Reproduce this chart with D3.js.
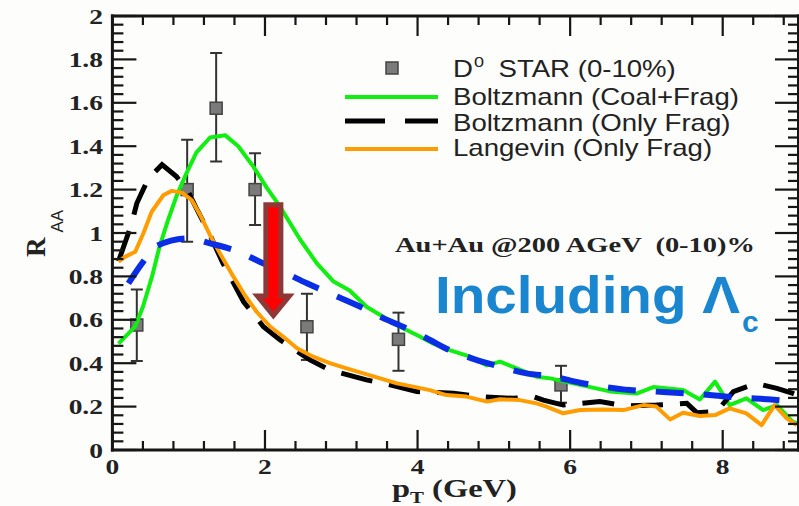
<!DOCTYPE html>
<html><head><meta charset="utf-8">
<script src="https://cdn.jsdelivr.net/npm/d3@7"></script>
<style>body{margin:0;background:#fdfdfb;overflow:hidden}svg{display:block}</style>
</head><body><svg id="c" width="799" height="506"></svg>
<script>
// ---- data ----
const starX  = [0.32, 0.98, 1.36, 1.87, 2.55, 3.75, 5.88];
const starY  = [0.576, 1.20, 1.575, 1.20, 0.568, 0.51, 0.30];
const starLo = [0.41, 0.96, 1.33, 1.037, 0.415, 0.365, 0.218];
const starHi = [0.74, 1.43, 1.83, 1.367, 0.72, 0.633, 0.388];

const coalX = [0.08,0.30,0.40,0.52,0.62,0.73,0.84,0.97,1.10,1.28,1.48,1.65,1.85,2.02,2.20,2.46,2.68,2.90,3.11,3.33,3.55,3.77,3.99,4.21,4.42,4.69,4.91,5.08,5.30,5.56,5.74,6.13,6.52,6.87,7.09,7.48,7.70,7.90,8.09,8.31,8.53,8.71,8.92,9.0];
const coalY = [0.49,0.57,0.66,0.80,0.94,1.06,1.17,1.275,1.37,1.44,1.45,1.40,1.305,1.21,1.12,0.97,0.86,0.776,0.735,0.66,0.614,0.568,0.53,0.49,0.46,0.43,0.39,0.407,0.376,0.338,0.33,0.30,0.27,0.26,0.29,0.276,0.233,0.315,0.207,0.238,0.184,0.207,0.13,0.12];

const fragX = [0.08,0.25,0.32,0.47,0.65,0.84,0.995,1.10,1.28,1.45,1.72,1.98,2.20,2.59,2.85,3.33,3.64,3.99,4.47,4.82,5.25,5.52,5.65,5.91,6.39,6.74,7.13,7.53,7.66,7.92,8.14,8.44,8.71,8.92,9.0];
const fragY = [0.87,1.04,1.137,1.25,1.315,1.26,1.19,1.114,0.99,0.86,0.683,0.568,0.507,0.415,0.369,0.323,0.30,0.269,0.261,0.246,0.238,0.246,0.23,0.207,0.223,0.203,0.207,0.215,0.172,0.177,0.269,0.307,0.284,0.261,0.25];

const langX = [0.08,0.165,0.30,0.405,0.515,0.67,0.78,0.91,1.04,1.15,1.28,1.41,1.56,1.72,1.89,2.07,2.24,2.42,2.63,2.85,3.07,3.29,3.51,3.73,3.94,4.16,4.38,4.64,4.91,5.08,5.34,5.56,5.69,5.91,6.13,6.43,6.70,6.96,7.13,7.31,7.48,7.70,7.90,8.09,8.31,8.51,8.68,8.84,8.97];
const langY = [0.868,0.89,0.914,0.998,1.098,1.175,1.194,1.186,1.152,1.083,0.99,0.906,0.814,0.722,0.637,0.568,0.522,0.469,0.43,0.40,0.376,0.353,0.33,0.307,0.292,0.276,0.253,0.246,0.223,0.234,0.23,0.215,0.20,0.169,0.184,0.187,0.184,0.207,0.20,0.141,0.172,0.157,0.161,0.192,0.169,0.115,0.207,0.146,0.115];

const lcX = [0.21,0.405,0.58,0.995,1.28,1.65,1.93,2.28,2.55,2.90,3.20,3.51,3.81,4.12,4.42,4.73,5.08,5.43,5.78,6.13,6.43,6.78,7.13,7.53,7.83,8.22,8.53,8.92,9.0];
const lcY = [0.768,0.868,0.94,0.975,0.952,0.914,0.868,0.814,0.768,0.714,0.668,0.614,0.568,0.515,0.46,0.42,0.384,0.353,0.338,0.31,0.292,0.276,0.269,0.261,0.253,0.241,0.235,0.223,0.22];

const xMajor = [0,2,4,6,8];
const xMinor = [0.4,0.8,1.2,1.6,2.4,2.8,3.2,3.6,4.4,4.8,5.2,5.6,6.4,6.8,7.2,7.6,8.4,8.8];
const yMajor = [0,0.2,0.4,0.6,0.8,1,1.2,1.4,1.6,1.8,2];
const yMajorLabels = ["0","0.2","0.4","0.6","0.8","1","1.2","1.4","1.6","1.8","2"];
const xMajorLabels = ["0","2","4","6","8"];
const yMinor = [0.04,0.08,0.12,0.16,0.24,0.28,0.32,0.36,0.44,0.48,0.52,0.56,0.64,0.68,0.72,0.76,0.84,0.88,0.92,0.96,1.04,1.08,1.12,1.16,1.24,1.28,1.32,1.36,1.44,1.48,1.52,1.56,1.64,1.68,1.72,1.76,1.84,1.88,1.92,1.96];

const legendLabels = ["STAR (0-10%)","Boltzmann (Coal+Frag)","Boltzmann (Only Frag)","Langevin (Only Frag)"];
const arrowX = 2.11, arrowTop = 1.13, arrowHeadBase = 0.71, arrowTip = 0.62;

// ---- drawing ----
const svg = d3.select('#c');
const x = d3.scaleLinear().domain([0,9]).range([112.4,799]);
const y = d3.scaleLinear().domain([0,2]).range([450,16]);
const X0 = x(0), X1 = x(9), Y0 = y(0), Y1 = y(2);

const serif = "'Liberation Serif','Times New Roman',serif";
const sans = "'Liberation Sans',Arial,sans-serif";

// clip
svg.append('clipPath').attr('id','clip').append('rect').attr('x',X0).attr('y',Y1).attr('width',X1-X0).attr('height',Y0-Y1);
const plot = svg.append('g').attr('clip-path','url(#clip)');

// data points
const pts = plot.append('g');
starX.forEach((v,i)=>{
  const cx = x(v);
  pts.append('line').attr('x1',cx).attr('x2',cx).attr('y1',y(starLo[i])).attr('y2',y(starHi[i])).attr('stroke','#333').attr('stroke-width',2);
  [starLo[i],starHi[i]].forEach(e=>pts.append('line').attr('x1',cx-6).attr('x2',cx+6).attr('y1',y(e)).attr('y2',y(e)).attr('stroke','#333').attr('stroke-width',2));
  pts.append('rect').attr('x',cx-6).attr('y',y(starY[i])-6).attr('width',12).attr('height',12)
    .attr('fill','#7b7b7b').attr('stroke','#444').attr('stroke-width',1.5);
});

const z = (a,b)=>a.map((v,i)=>[v,b[i]]);
const lin = d3.line().x(d=>x(d[0])).y(d=>y(d[1]));
const smooth = d3.line().x(d=>x(d[0])).y(d=>y(d[1])).curve(d3.curveMonotoneX);
plot.append('path').attr('d',lin(z(coalX,coalY))).attr('fill','none').attr('stroke','#11ee11').attr('stroke-width',4).attr('stroke-linejoin','round');
plot.append('path').attr('d',lin(z(fragX,fragY))).attr('fill','none').attr('stroke','#000').attr('stroke-width',5).attr('stroke-dasharray','32 17');
plot.append('path').attr('d',lin(z(langX,langY))).attr('fill','none').attr('stroke','#ff9c00').attr('stroke-width',4).attr('stroke-linejoin','round');
plot.append('path').attr('d',smooth(z(lcX,lcY))).attr('fill','none').attr('stroke','#0a2de6').attr('stroke-width',6).attr('stroke-dasharray','28 20');

// frame + inward ticks on all four sides
const fr = svg.append('g').attr('fill','#161616');
xMajor.concat(xMinor).forEach(v=>{
  const L = xMajor.includes(v) ? 20 : 9;
  fr.append('rect').attr('x',x(v)-1.1).attr('y',Y0-L).attr('width',2.2).attr('height',L);
  fr.append('rect').attr('x',x(v)-1.1).attr('y',Y1).attr('width',2.2).attr('height',L);
});
yMajor.concat(yMinor).forEach(v=>{
  const L = yMajor.includes(v) ? 24 : 11;
  fr.append('rect').attr('x',X0).attr('y',y(v)-1.1).attr('width',L).attr('height',2.2);
  fr.append('rect').attr('x',X1-L).attr('y',y(v)-1.1).attr('width',L).attr('height',2.2);
});
fr.append('rect').attr('x',X0-1.5).attr('y',Y1-1.5).attr('width',X1-X0+3).attr('height',3);
fr.append('rect').attr('x',X0-1.5).attr('y',Y0-1.5).attr('width',X1-X0+3).attr('height',3);
fr.append('rect').attr('x',X0-1.5).attr('y',Y1-1.5).attr('width',3).attr('height',Y0-Y1+3);
fr.append('rect').attr('x',X1-2).attr('y',Y1-1.5).attr('width',3).attr('height',Y0-Y1+3);

// tick labels
yMajor.forEach((v,i)=>{
  svg.append('text').text(yMajorLabels[i])
    .attr('transform',`translate(103,${y(v)+7.5}) scale(1.25,1)`)
    .attr('text-anchor','end').attr('font-family',serif).attr('font-weight','bold')
    .attr('font-size',22).attr('fill','#222');
});
xMajor.forEach((v,i)=>{
  svg.append('text').text(xMajorLabels[i])
    .attr('transform',`translate(${x(v)},473.5) scale(1.25,1)`)
    .attr('text-anchor','middle').attr('font-family',serif).attr('font-weight','bold')
    .attr('font-size',22).attr('fill','#222');
});

// axis titles
const xtt = svg.append('text').attr('transform','translate(392,497) scale(1.3,1)')
  .attr('font-family',serif).attr('font-weight','bold').attr('font-size',25).attr('fill','#222');
xtt.append('tspan').text('p');
xtt.append('tspan').text('T').attr('font-size',16).attr('dy',6);
xtt.append('tspan').text(' (GeV)').attr('dy',-6);

const ytt = svg.append('text').attr('transform','translate(45,257) rotate(-90)')
  .attr('font-family',serif).attr('font-weight','bold').attr('font-size',27).attr('fill','#222');
ytt.append('tspan').text('R');
ytt.append('tspan').text('AA').attr('font-family',sans).attr('font-weight','normal').attr('font-size',17).attr('dx',5).attr('dy',18);

// arrow
const ax0 = x(arrowX), yTop = y(arrowTop), yHB = y(arrowHeadBase), yTip = y(arrowTip);
svg.append('path').attr('d',`M${ax0-7.5},${yTop} L${ax0+7.5},${yTop} L${ax0+7.5},${yHB} L${ax0+16},${yHB} L${ax0},${yTip} L${ax0-16},${yHB} L${ax0-7.5},${yHB} Z`)
  .attr('fill','#ff0000').attr('stroke','#8e3838').attr('stroke-width',5).attr('stroke-linejoin','miter');

// legend
const lg = svg.append('g');
lg.append('rect').attr('x',386).attr('y',62).attr('width',12).attr('height',12).attr('fill','#7b7b7b').attr('stroke','#444').attr('stroke-width',1.5);
lg.append('line').attr('x1',345).attr('x2',438).attr('y1',97).attr('y2',97).attr('stroke','#11ee11').attr('stroke-width',4);
lg.append('line').attr('x1',345).attr('x2',438).attr('y1',121).attr('y2',121).attr('stroke','#000').attr('stroke-width',5).attr('stroke-dasharray','40 20');
lg.append('line').attr('x1',345).attr('x2',438).attr('y1',149).attr('y2',149).attr('stroke','#ff9c00').attr('stroke-width',4);
const lt0 = lg.append('text').attr('transform','translate(453,77) scale(1.2,1)').attr('font-family',sans).attr('font-size',23).attr('fill','#222');
lt0.append('tspan').text('D');
lt0.append('tspan').text('0').attr('font-size',15).attr('dy',-10).attr('dx',1);
lt0.append('tspan').text(legendLabels[0]).attr('dy',10).attr('dx',12);
[105,131,156].forEach((b,i)=>{
  lg.append('text').text(legendLabels[i+1]).attr('transform',`translate(453,${b}) scale(1.2,1)`)
    .attr('font-family',sans).attr('font-size',23).attr('fill','#222');
});

// annotations
svg.append('text').text('Au+Au @200 AGeV  (0-10)%').attr('x',395).attr('y',252)
  .attr('textLength',360).attr('lengthAdjust','spacingAndGlyphs').attr('xml:space','preserve')
  .attr('font-family',serif).attr('font-weight','bold').attr('font-size',22).attr('fill','#222');
svg.append('text').text('Including Λ').attr('x',435).attr('y',313)
  .attr('textLength',305).attr('lengthAdjust','spacingAndGlyphs')
  .attr('font-family',sans).attr('font-weight','bold').attr('font-size',52).attr('fill','#1a86d0');
svg.append('text').text('c').attr('x',742).attr('y',332)
  .attr('font-family',sans).attr('font-weight','bold').attr('font-size',30).attr('fill','#1a86d0');
</script></body></html>
